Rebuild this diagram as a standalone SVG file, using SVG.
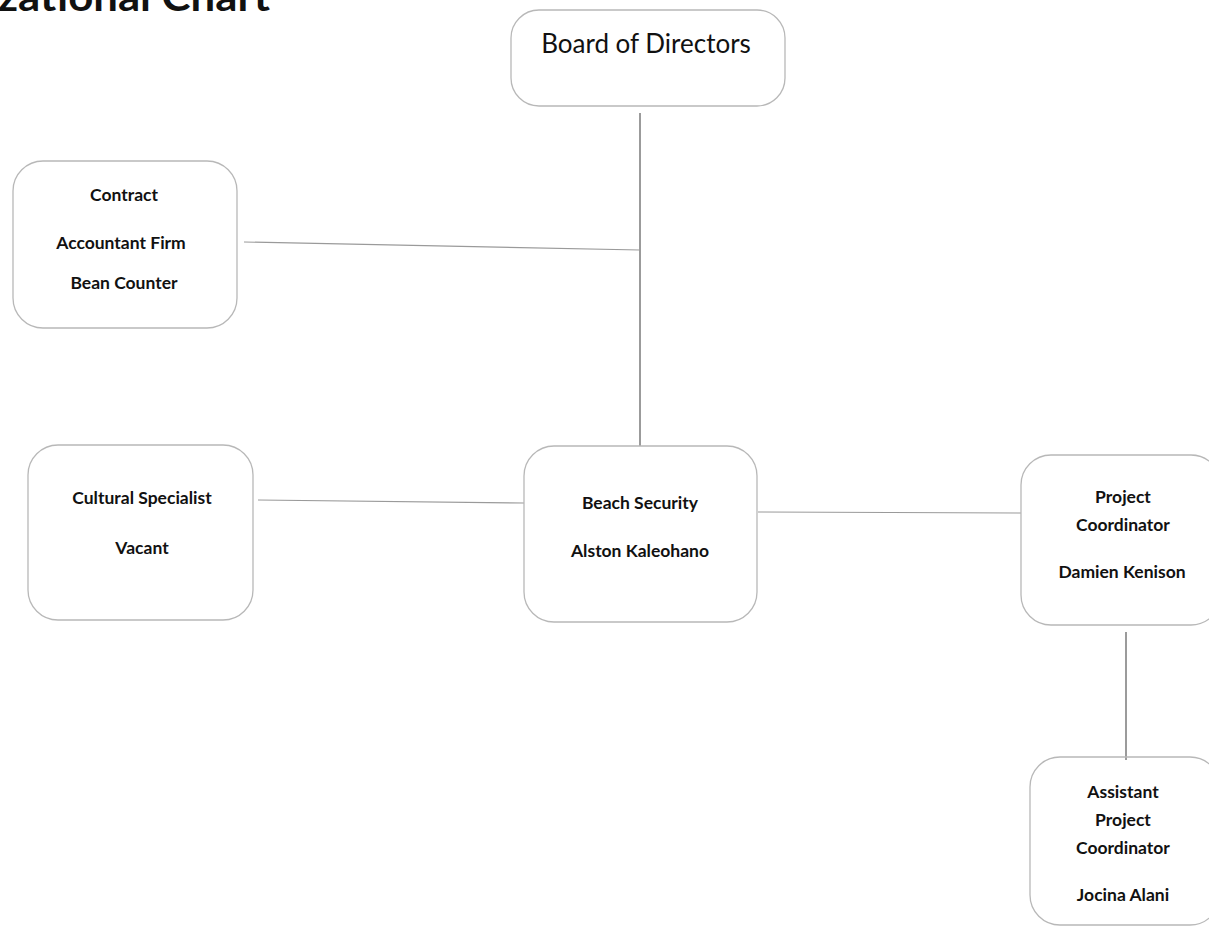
<svg xmlns="http://www.w3.org/2000/svg" width="1209" height="929" viewBox="0 0 1209 929">
<style>
.box{fill:none;stroke:#b8b8b8;stroke-width:1.3}
.t{font-family:Lato,"Open Sans","Liberation Sans",sans-serif;font-weight:bold;font-size:17.5px;fill:#111;text-anchor:middle}
.h{font-family:Lato,"Open Sans","Liberation Sans",sans-serif;font-size:26px;fill:#111;text-anchor:middle}
.c{stroke:#9a9a9a;stroke-width:1.2;fill:none}
.cv{stroke:#7a7a7a;stroke-width:1.5;fill:none}
</style>
<rect width="1209" height="929" fill="#fff"/>
<text x="-2" y="11" font-family="Lato,'Open Sans','Liberation Sans',sans-serif" font-weight="bold" font-size="40" fill="#111" textLength="272" lengthAdjust="spacingAndGlyphs">zational Chart</text>
<g id="connectors">
<line class="cv" x1="640" y1="113" x2="640" y2="446"/>
<line class="c" x1="244" y1="242" x2="640" y2="250"/>
<line class="c" x1="258" y1="500" x2="524" y2="503"/>
<line class="c" x1="758" y1="512" x2="1021" y2="513"/>
<line class="cv" x1="1126" y1="632" x2="1126" y2="760"/>
</g>
<g id="board">
<rect class="box" x="511" y="10" width="274" height="96" rx="28"/>
<text class="h" x="646" y="53">Board of Directors</text>
</g>
<g id="contract">
<rect class="box" x="13" y="161" width="224" height="167" rx="30"/>
<text class="t" x="124" y="201">Contract</text>
<text class="t" x="121" y="249">Accountant Firm</text>
<text class="t" x="124" y="289">Bean Counter</text>
</g>
<g id="cultural">
<rect class="box" x="28" y="445" width="225" height="175" rx="30"/>
<text class="t" x="142" y="504">Cultural Specialist</text>
<text class="t" x="142" y="554">Vacant</text>
</g>
<g id="beach">
<rect class="box" x="524" y="446" width="233" height="176" rx="30"/>
<text class="t" x="640" y="509">Beach Security</text>
<text class="t" x="640" y="557">Alston Kaleohano</text>
</g>
<g id="project">
<rect class="box" x="1021" y="455" width="200" height="170" rx="30"/>
<text class="t" x="1123" y="503">Project</text>
<text class="t" x="1123" y="531">Coordinator</text>
<text class="t" x="1122" y="578">Damien Kenison</text>
</g>
<g id="assistant">
<rect class="box" x="1030" y="757" width="190" height="168" rx="30"/>
<text class="t" x="1123" y="798">Assistant</text>
<text class="t" x="1123" y="826">Project</text>
<text class="t" x="1123" y="854">Coordinator</text>
<text class="t" x="1123" y="901">Jocina Alani</text>
</g>
</svg>
